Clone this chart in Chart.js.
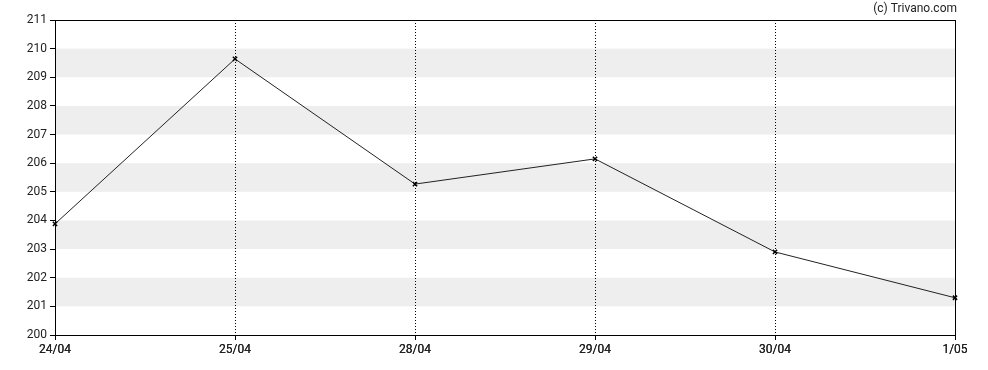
<!DOCTYPE html>
<html>
<head>
<meta charset="utf-8">
<script src="https://cdn.jsdelivr.net/npm/chart.js@4"></script>
<style>
  html, body { margin: 0; padding: 0; background: #fff; }
  #wrap { width: 988px; height: 370px; }
</style>
</head>
<body>
<div id="wrap"><canvas id="myChart" width="988" height="370"></canvas></div>
<script>
var labels = ['24/04', '25/04', '28/04', '29/04', '30/04', '1/05'];
var prices = [203.88, 209.64, 205.27, 206.15, 202.90, 201.30];
var Y_MIN = 200;
var Y_MAX = 211;
var bands = [[201, 202], [203, 204], [205, 206], [207, 208], [209, 210]];

// grey stripes behind the line, plus the black frame on top
var framePlugin = {
  id: 'frame',
  beforeDatasetsDraw: function(chart) {
    var ctx = chart.ctx, area = chart.chartArea, y = chart.scales.y;
    ctx.save();
    ctx.fillStyle = '#eeeeee';
    bands.forEach(function(b) {
      var top = y.getPixelForValue(b[1]);
      var bot = y.getPixelForValue(b[0]);
      ctx.fillRect(area.left, top, area.right - area.left, bot - top);
    });
    ctx.restore();
    // redraw dotted gridlines over the stripes
    chart.scales.x.draw(chart.chartArea);
  },
  afterDraw: function(chart) {
    var ctx = chart.ctx, area = chart.chartArea;
    ctx.save();
    ctx.strokeStyle = '#000';
    ctx.lineWidth = 1;
    ctx.strokeRect(Math.round(area.left) + 0.5, Math.round(area.top) + 0.5,
      Math.round(area.right - area.left), Math.round(area.bottom - area.top));
    ctx.fillStyle = '#222';
    ctx.font = '12px Roboto';
    ctx.textAlign = 'right';
    ctx.textBaseline = 'middle';
    ctx.fillText('(c) Trivano.com', area.right + 2, 9);
    ctx.restore();
  }
};

var config = {
  type: 'line',
  data: {
    labels: labels,
    datasets: [{
      data: prices,
      borderColor: '#222',
      borderWidth: 1,
      pointStyle: 'crossRot',
      pointRadius: 3,
      pointBorderColor: '#000',
      pointBorderWidth: 1.5,
      tension: 0
    }]
  },
  options: {
    responsive: false,
    animation: false,
    layout: { padding: { left: 0, right: 33, top: 20, bottom: 0 } },
    plugins: { legend: { display: false }, tooltip: { enabled: false } },
    scales: {
      x: {
        offset: false,
        grid: {
          color: '#000',
          lineWidth: 1,
          tickLength: 5,
          tickColor: '#000',
          tickBorderDash: []
        },
        border: { display: false, dash: [1, 2] },
        ticks: { color: '#222', font: { family: 'Roboto', size: 12 }, padding: 3, maxRotation: 0, autoSkip: false },
        afterFit: function(s) { s.height = 35; }
      },
      y: {
        min: Y_MIN,
        max: Y_MAX,
        grid: { drawOnChartArea: false, tickLength: 5, tickColor: '#000', color: '#000' },
        border: { display: true, color: '#000' },
        ticks: { stepSize: 1, color: '#222', font: { family: 'Roboto', size: 12 }, padding: 3 },
        afterFit: function(s) { s.width = 55; }
      }
    }
  },
  plugins: [framePlugin]
};

var myChart = new Chart(document.getElementById('myChart'), config);
</script>
</body>
</html>
